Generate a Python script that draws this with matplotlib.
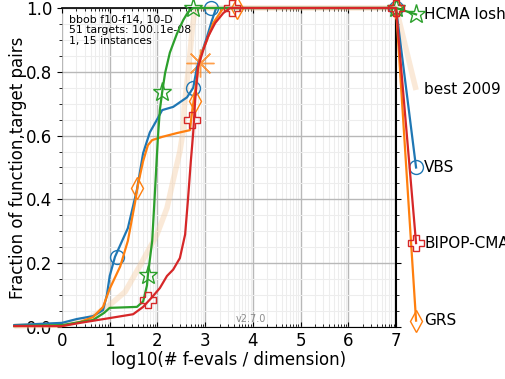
import matplotlib
matplotlib.use("Agg")
import matplotlib.pyplot as plt
from matplotlib.ticker import FixedLocator, MultipleLocator
import numpy as np

# ECDF curves (x = log10(# f-evals / dim), y = fraction)
vbs_x = [-1.0, 0.0, 0.31, 0.65, 0.86, 0.94, 1.0, 1.11, 1.26, 1.38, 1.57, 1.70, 1.84,
         1.99, 2.10, 2.33, 2.62, 2.75, 2.83, 2.93, 3.04, 3.14, 3.23, 7.0]
vbs_y = [0.006, 0.013, 0.025, 0.034, 0.053, 0.10, 0.16, 0.22, 0.27, 0.31, 0.43, 0.545, 0.61,
         0.65, 0.68, 0.69, 0.72, 0.75, 0.815, 0.86, 0.91, 0.96, 1.0, 1.0]

grs_x = [-1.0, 0.0, 0.38, 0.65, 0.86, 1.0, 1.22, 1.38, 1.53, 1.59, 1.70, 1.80, 1.89,
         2.10, 2.41, 2.68, 2.73, 2.79, 2.89, 3.04, 3.17, 3.38, 7.0]
grs_y = [0.003, 0.003, 0.016, 0.031, 0.063, 0.12, 0.19, 0.27, 0.39, 0.445, 0.52, 0.57, 0.586,
         0.596, 0.608, 0.617, 0.68, 0.74, 0.846, 0.90, 0.953, 1.0, 1.0]

hcma_x = [-1.0, 0.0, 0.65, 0.88, 1.0, 1.57, 1.70, 1.78, 1.80, 1.89, 1.95, 2.01, 2.05,
          2.10, 2.16, 2.26, 2.41, 2.54, 2.64, 2.75, 7.0]
hcma_y = [0.003, 0.006, 0.022, 0.044, 0.06, 0.063, 0.08, 0.13, 0.163, 0.27, 0.43, 0.595, 0.68,
          0.737, 0.796, 0.86, 0.92, 0.962, 0.987, 1.0, 1.0]

bipop_x = [-1.0, 0.0, 0.38, 1.0, 1.49, 1.70, 1.89, 2.05, 2.20, 2.33, 2.47, 2.58, 2.64,
           2.70, 2.75, 2.79, 2.85, 2.96, 3.06, 3.21, 3.38, 3.52, 7.0]
bipop_y = [0.003, 0.003, 0.013, 0.028, 0.04, 0.063, 0.094, 0.122, 0.16, 0.18, 0.216, 0.29, 0.40,
           0.52, 0.61, 0.71, 0.815, 0.868, 0.91, 0.953, 0.984, 1.0, 1.0]

best_x = [-1.0, 0.0, 0.59, 1.0, 1.32, 1.64, 1.99, 2.20, 2.33, 2.47, 2.54, 2.56, 2.62,
          2.68, 2.73, 2.77, 2.83, 7.0]
best_y = [0.003, 0.006, 0.028, 0.069, 0.11, 0.194, 0.29, 0.373, 0.46, 0.55, 0.617, 0.687, 0.768,
          0.853, 0.937, 0.98, 1.0, 1.0]

# marker positions along each curve
vbs_mx, vbs_my = [1.15, 2.75, 3.12, 7.0], [0.22, 0.75, 1.0, 1.0]
grs_mx, grs_my = [1.57, 2.79, 3.67, 7.0], [0.435, 0.71, 1.0, 1.0]
hcma_mx, hcma_my = [1.80, 2.10, 2.75, 7.0], [0.163, 0.737, 1.0, 1.0]
bipop_mx, bipop_my = [1.80, 2.73, 3.56, 7.0], [0.085, 0.65, 1.0, 1.0]

# end points outside the axes, with labels
names = ["HCMA losh", "best 2009", "VBS", "BIPOP-CMA", "GRS"]
end_y = [0.98, 0.743, 0.50, 0.263, 0.02]
x_end = 7.42

fig = plt.figure(figsize=(5.05, 3.79), dpi=100)
ax = fig.add_axes([0.1228, 0.1372, 0.6614, 0.8417])

c_blue, c_orange, c_green, c_red = "#1f77b4", "#ff7f0e", "#2ca02c", "#d62728"
c_best = "#f5d0a9"

ax.plot(best_x + [x_end], best_y + [end_y[1]], color=c_best, lw=4, alpha=0.45,
        clip_on=False, zorder=2, solid_capstyle="butt")
ax.plot([2.89], [0.828], marker=(8, 2, 0), ms=20, mew=1, color=c_orange, alpha=0.75,
        clip_on=False, zorder=3)

series = [
    (vbs_x, vbs_y, vbs_mx, vbs_my, c_blue, "o", 10, end_y[2]),
    (grs_x, grs_y, grs_mx, grs_my, c_orange, "d", 11, end_y[4]),
    (hcma_x, hcma_y, hcma_mx, hcma_my, c_green, "*", 14, end_y[0]),
    (bipop_x, bipop_y, bipop_mx, bipop_my, c_red, "P", 12, end_y[3]),
]
for k, (xs, ys, mx, my, col, mk, ms, ye) in enumerate(series):
    ax.plot(xs + [x_end], ys + [ye], color=col, lw=1.6, clip_on=False, zorder=4 + k)
    ax.plot(mx + [x_end], my + [ye], ls="none", marker=mk, ms=ms, mfc="none", mec=col,
            mew=1.0, clip_on=False, zorder=4 + k)

for name, y in zip(names, end_y):
    ax.text(7.59, y, name, fontsize=11, va="center", ha="left", clip_on=False)

ax.text(0.02, 0.978, "bbob f10-f14, 10-D\n51 targets: 100..1e-08\n1, 15 instances",
        transform=ax.transAxes, fontsize=7.8, va="top", ha="left", linespacing=1.05)
ax.text(0.52, 0.008, "v2.7.0", transform=ax.transAxes, fontsize=7, color="0.55",
        va="bottom", ha="left")

ax.set_xlim(0, 7)
ax.set_ylim(0, 1)
ax.xaxis.set_major_locator(FixedLocator(range(8)))
minors = [n + np.log10(k) for n in range(7) for k in range(2, 10)]
ax.xaxis.set_minor_locator(FixedLocator(minors))
ax.yaxis.set_major_locator(MultipleLocator(0.2))
ax.yaxis.set_minor_locator(MultipleLocator(0.05))

ax.grid(True, which="major", color="0.72", lw=1.0)
ax.grid(True, which="minor", color="0.93", lw=0.8)
ax.set_axisbelow(True)

ax.tick_params(axis="x", which="both", direction="in", top=True, labelsize=12)
ax.tick_params(axis="y", which="both", right=True, labelsize=12)
ax.tick_params(which="minor", length=2.5)

ax.spines["left"].set_visible(False)
ax.spines["right"].set_linewidth(1.5)
ax.spines["top"].set_linewidth(1.2)

ax.set_xlabel("log10(# f-evals / dimension)", fontsize=12, labelpad=1)
ax.set_ylabel("Fraction of function,target pairs", fontsize=12, labelpad=-1)

fig.savefig("out.png", dpi=100)
